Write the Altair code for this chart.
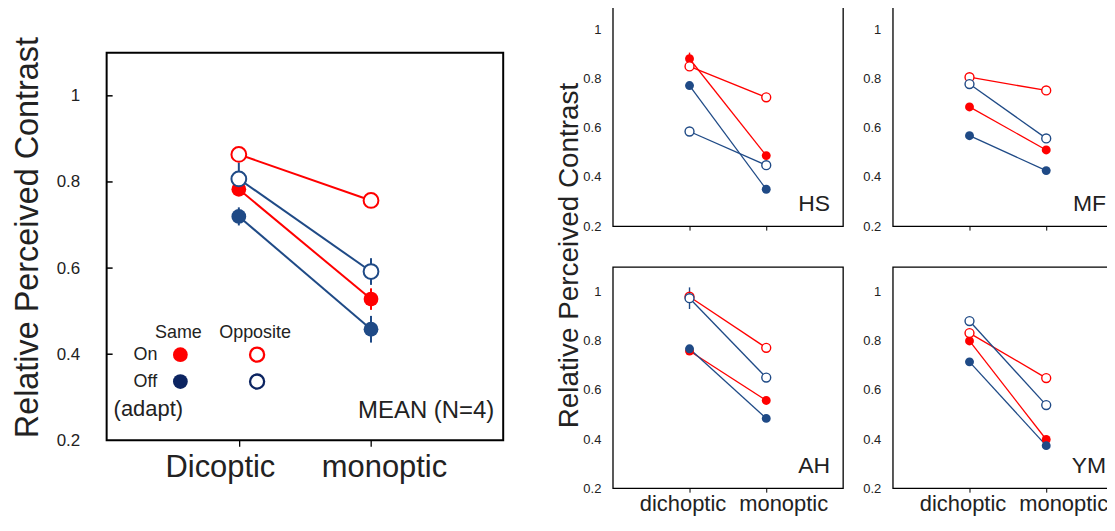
import altair as alt
import pandas as pd

RED = "#ff0000"
BLUE = "#1f4a86"
NAVY = "#0c2461"
INK = "#222222"
FONT = "Liberation Sans"

series_order = [("On", "Same"), ("Off", "Same"), ("On", "Opposite"), ("Off", "Opposite")]
main_x = ["Dicoptic", "monoptic"]
small_x = ["dichoptic", "monoptic"]
y_ticks = [0.2, 0.4, 0.6, 0.8, 1.0]
y_inner_ticks = [0.4, 0.6, 0.8, 1.0]

# MEAN (N=4): [dichoptic, monoptic]
mean_on_same = [0.783, 0.528]
mean_off_same = [0.720, 0.458]
mean_on_opp = [0.864, 0.757]
mean_off_opp = [0.807, 0.592]
mean_err_on_same = [0.010, 0.025]
mean_err_off_same = [0.021, 0.031]
mean_err_on_opp = [0.008, 0.008]
mean_err_off_opp = [0.038, 0.031]

# HS
hs_on_same = [0.881, 0.487]
hs_off_same = [0.772, 0.350]
hs_on_opp = [0.850, 0.724]
hs_off_opp = [0.585, 0.448]
hs_err_on_same = [0.025, 0.0]
hs_err_off_same = [0.015, 0.0]
# MF
mf_on_same = [0.685, 0.510]
mf_off_same = [0.568, 0.426]
mf_on_opp = [0.806, 0.752]
mf_off_opp = [0.778, 0.557]
# AH
ah_on_same = [0.758, 0.557]
ah_off_same = [0.767, 0.484]
ah_on_opp = [0.979, 0.771]
ah_off_opp = [0.973, 0.650]
ah_err_off_opp = [0.044, 0.0]
# YM
ym_on_same = [0.799, 0.398]
ym_off_same = [0.714, 0.373]
ym_on_opp = [0.831, 0.648]
ym_off_opp = [0.880, 0.538]

ZERO = [0.0, 0.0]


def build(cats, vals, errs):
    rows = []
    for (adapt, cond), v, e in zip(series_order, vals, errs):
        for c, vi, ei in zip(cats, v, e):
            rows.append({"adapt": adapt, "cond": cond, "series": adapt + cond,
                         "x": c, "value": vi, "err": ei})
    return pd.DataFrame(rows)


YSCALE = alt.Scale(domain=[0.2, 1.1], nice=False, zero=False)
COLOR = alt.Color("adapt:N", scale=alt.Scale(domain=["On", "Off"], range=[RED, BLUE]), legend=None)


def panel(df, cats, w, h, yaxis, xaxis, pt_size, lw, sw, extra=()):
    xenc = alt.X("x:O", scale=alt.Scale(type="point", domain=cats, padding=1), axis=xaxis)

    def yenc(f):
        return alt.Y(f, type="quantitative", scale=YSCALE, axis=yaxis)

    base = alt.Chart(df)
    lines = base.mark_line(strokeWidth=lw).encode(x=xenc, y=yenc("value"), color=COLOR, detail="series:N")
    errs = (base.transform_filter("datum.err > 0")
            .transform_calculate(lo="datum.value - datum.err", hi="datum.value + datum.err")
            .mark_rule(strokeWidth=sw)
            .encode(x=xenc, y=yenc("lo"), y2="hi:Q", color=COLOR))
    filled = (base.transform_filter("datum.cond == 'Same'")
              .mark_circle(size=pt_size, opacity=1)
              .encode(x=xenc, y=yenc("value"), color=COLOR))
    opened = (base.transform_filter("datum.cond == 'Opposite'")
              .mark_point(shape="circle", filled=False, fill="white", fillOpacity=1,
                          size=pt_size, strokeWidth=sw, opacity=1)
              .encode(x=xenc, y=yenc("value"), color=COLOR))
    layers = [lines, errs, filled, opened] + list(extra)
    return alt.layer(*layers).properties(width=w, height=h)


# ---------------- main panel ----------------
MW, MH = 398, 389
main_df = build(main_x,
                [mean_on_same, mean_off_same, mean_on_opp, mean_off_opp],
                [mean_err_on_same, mean_err_off_same, mean_err_on_opp, mean_err_off_opp])

main_yaxis = alt.Axis(values=y_ticks, format="~g", labelFontSize=17, labelPadding=27,
                      ticks=False, domain=False, grid=False,
                      title="Relative Perceived Contrast", titleFontSize=32.5,
                      titleFontWeight="normal", titlePadding=12, titleY=185)
main_xaxis = alt.Axis(title=None, labelFontSize=31, labelAngle=0, tickSize=6, tickColor="black",
                      tickWidth=1.3, domain=False, grid=False, labelPadding=6,
                      labelOffset={"condition": {"test": "datum.label == 'Dicoptic'", "value": -19},
                                   "value": 13})

tick_df = pd.DataFrame({"v": y_inner_ticks})
inner_ticks = alt.Chart(tick_df).mark_rule(color="black", strokeWidth=1.5).encode(
    y=alt.Y("v:Q", scale=YSCALE, axis=main_yaxis), x=alt.value(0), x2=alt.value(6))


def txt(s, x, y, size, align="left"):
    return alt.Chart(pd.DataFrame({"t": [s]})).mark_text(
        fontSize=size, align=align, baseline="alphabetic", color=INK, font=FONT
    ).encode(text="t:N", x=alt.value(x), y=alt.value(y))


def legend_pt(x, y, color, filled):
    d = pd.DataFrame({"k": [1]})
    if filled:
        m = alt.Chart(d).mark_circle(size=220, color=color, opacity=1)
    else:
        m = alt.Chart(d).mark_point(shape="circle", filled=False, fill="white", fillOpacity=1,
                                    stroke=color, strokeWidth=2.3, size=200, opacity=1)
    return m.encode(x=alt.value(x), y=alt.value(y))


main_extra = [
    inner_ticks,
    txt("Same", 72, 286, 18, "center"),
    txt("Opposite", 149, 286, 18, "center"),
    txt("On", 27, 308, 18),
    txt("Off", 27, 335, 18),
    txt("(adapt)", 7, 365, 22),
    txt("MEAN (N=4)", 389, 367, 24, "right"),
    legend_pt(74, 303, RED, True),
    legend_pt(74, 330, NAVY, True),
    legend_pt(151, 303, RED, False),
    legend_pt(151, 330, NAVY, False),
]

main = panel(main_df, main_x, MW, MH, main_yaxis, main_xaxis, 220, 2, 2, main_extra).properties(
    view=alt.ViewBackground(stroke="black", strokeWidth=2),
)

spacer = (alt.Chart(pd.DataFrame({"k": [0]})).mark_point(opacity=0, size=1)
          .encode(x=alt.value(5), y=alt.value(20))
          .properties(width=10, height=48,
                      view=alt.ViewBackground(fill="white", stroke="white", strokeWidth=0)))
main_col = alt.vconcat(spacer, main, spacing=0, bounds="flush").resolve_scale(
    x="independent", y="independent")

# ---------------- small panels ----------------
SW, SH = 231, 222
small_yaxis = alt.Axis(values=y_ticks, format="~g", labelFontSize=13, labelPadding=12,
                       ticks=False, domain=False, grid=False, title=None)


def small_xaxis(show):
    return alt.Axis(title=None, labels=show, labelFontSize=22, labelAngle=0, tickSize=4,
                    tickColor="black", domain=False, grid=False, labelPadding=1,
                    labelOffset={"condition": {"test": "datum.label == 'dichoptic'", "value": -7},
                                 "value": 17})


def small(name, vals, errs, show_labels, name_inset):
    df = build(small_x, vals, errs)
    lab = txt(name, SW - name_inset, SH - 15, 23, "right")
    return panel(df, small_x, SW, SH, small_yaxis, small_xaxis(show_labels), 80, 1.3, 1.4,
                 [lab]).properties(view=alt.ViewBackground(stroke="black", strokeWidth=1.3))


hs = small("HS", [hs_on_same, hs_off_same, hs_on_opp, hs_off_opp],
           [hs_err_on_same, hs_err_off_same, ZERO, ZERO], False, 13)
mf = small("MF", [mf_on_same, mf_off_same, mf_on_opp, mf_off_opp],
           [ZERO, ZERO, ZERO, ZERO], False, 17)
ah = small("AH", [ah_on_same, ah_off_same, ah_on_opp, ah_off_opp],
           [ZERO, ZERO, ZERO, ah_err_off_opp], True, 13)
ym = small("YM", [ym_on_same, ym_off_same, ym_on_opp, ym_off_opp],
           [ZERO, ZERO, ZERO, ZERO], True, 17)

row1 = alt.hconcat(hs, mf, spacing=18).resolve_scale(x="independent", y="independent")
row2 = alt.hconcat(ah, ym, spacing=18).resolve_scale(x="independent", y="independent")
grid = alt.vconcat(row1, row2, spacing=32).resolve_scale(x="independent", y="independent").properties(
    title=alt.TitleParams("Relative Perceived Contrast", orient="left", anchor="middle",
                          fontSize=28, fontWeight="normal", offset=0, dx=4, dy=2, color=INK)
)

chart = (
    alt.hconcat(main_col, grid, spacing=52)
    .resolve_scale(x="independent", y="independent")
    .properties(padding={"left": 2, "top": -5, "right": -17, "bottom": 0})
    .configure(font=FONT)
    .configure_view(stroke="black")
    .configure_axis(labelColor=INK, titleColor=INK, labelFont=FONT, titleFont=FONT)
    .configure_title(font=FONT, color=INK, fontWeight="normal")
)

chart.save("out.html", embed_options={"renderer": "svg", "actions": False})
